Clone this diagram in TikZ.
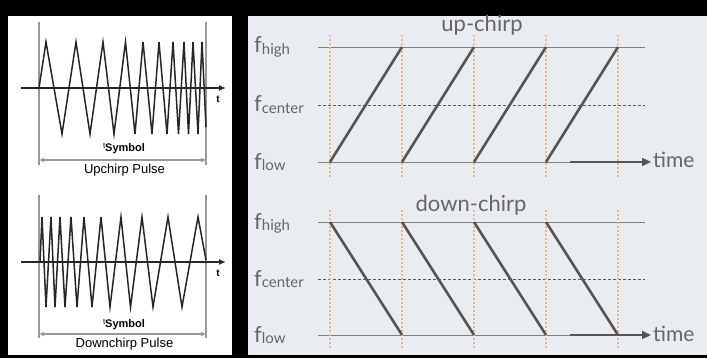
\documentclass[tikz,border=0pt]{standalone}
\usepackage{fontspec}
\setmainfont{Liberation Sans}
\newfontfamily\keyfont{Lato}
\usetikzlibrary{arrows.meta}
\definecolor{slide}{HTML}{E9EDF1}
\definecolor{ink}{HTML}{555555}
\definecolor{peach}{HTML}{F7B47E}
\newcommand\flab[1]{{\fontsize{22}{24}\selectfont f}\raisebox{-1.5pt}{\fontsize{15}{16}\selectfont #1}}
\newcommand\tsym{{\fontsize{8}{8}\selectfont\raisebox{3pt}{t}}{\fontsize{11}{12}\selectfont\bfseries Symbol}}

\begin{document}
\begin{tikzpicture}[x=1pt,y=-1pt,
  vbar/.style={draw=black!40,line width=2pt},
  wave/.style={draw=black!85,line width=1.5pt},
  axisline/.style={draw=black!85,line width=1.3pt,-{Latex[length=7pt,width=6pt]}},
  span/.style={draw=black!40,line width=1.3pt,{Latex[length=5pt,width=5pt]}-{Latex[length=5pt,width=5pt]}},
  level/.style={draw=black!50,line width=0.8pt},
  midlevel/.style={draw=black!65,line width=0.8pt,dash pattern=on 3pt off 2pt},
  slot/.style={draw=peach,line width=1.6pt,dash pattern=on 2pt off 2pt},
  ramp/.style={draw=ink,line width=2.6pt},
  timearrow/.style={draw=ink,line width=2.4pt,-{Triangle[length=9pt,width=8pt]}},
  flabel/.style={anchor=base west,inner sep=0pt,text=black!60,font=\keyfont},
  title/.style={anchor=base,inner sep=0pt,text=black!60,font=\keyfont\fontsize{22}{24}\selectfont},
  caption/.style={anchor=base,inner sep=0pt,font=\fontsize{13}{14}\selectfont}]
  \useasboundingbox[fill=black] (0,0) rectangle (707,358);
  \fill[white] (8,16) rectangle (232,355);
  \fill[slide] (248,16) rectangle (707,355);

  % left: upchirp pulse
  \draw[vbar] (39,22) -- (39,165);
  \draw[vbar] (206,22) -- (206,165);
  \coordinate (ut0) at (21,88);
  \coordinate (ut1) at (226,88);
  \draw[axisline] (ut0) -- (ut1);
  \draw[wave] (39,88) \foreach \x/\y in {46/42,62/134,76/42,90/134,103/42,114/134,125.5/42,135/134,143/42,152/134,
    159/42,167/134,173/42,178.5/134,184/42,188.5/134,193/42,198/134,202/42,206/127} { -- (\x,\y)};
  \node[inner sep=0pt,font=\fontsize{10}{10}\selectfont\bfseries] (ut) at (218,99) {t};
  \coordinate (us0) at (39,160);
  \coordinate (us1) at (206,160);
  \draw[span] (us0) -- (us1);
  \node[caption] (usym) at (124,152) {\tsym};
  \node[caption] (uname) at (124.5,174) {Upchirp Pulse};

  % left: downchirp pulse
  \draw[vbar] (39,195) -- (39,338);
  \draw[vbar] (206,195) -- (206,338);
  \coordinate (dt0) at (21,262);
  \coordinate (dt1) at (226,262);
  \draw[axisline] (dt0) -- (dt1);
  \draw[wave] (40,262) \foreach \x/\y in {42/217,46/307,51/217,55/307,60/217,65/307,71/217,77/307,84/217,92/307,
    101/217,110/307,121/217,130.5/307,142/217,153/307,168/217,182/307,198/217,206/260} { -- (\x,\y)};
  \node[inner sep=0pt,font=\fontsize{10}{10}\selectfont\bfseries] (dt) at (218,273) {t};
  \coordinate (ds0) at (39,334);
  \coordinate (ds1) at (206,334);
  \draw[span] (ds0) -- (ds1);
  \node[caption] (dsym) at (124,327) {\tsym};
  \node[caption] (dname) at (124.5,347) {Downchirp Pulse};

  % right: up-chirp
  \draw[level] (318,47) -- (645,47);
  \draw[midlevel] (318,105) -- (645,105);
  \draw[level] (318,162) -- (572,162);
  \foreach \i/\x in {0/330,1/402,2/474,3/546,4/618} {
    \draw[slot] (\x,35) -- (\x,177);
    \coordinate (uh\i) at (\x,47);
    \coordinate (ul\i) at (\x,162);
  }
  \foreach \i/\j in {0/1,1/2,2/3,3/4} {\draw[ramp] (ul\i) -- (uh\j);}
  \node[title] (uptitle) at (482,32) {up-chirp};
  \node[flabel] (ufh) at (254,53) {\flab{high}};
  \node[flabel] (ufc) at (254,112) {\flab{center}};
  \node[flabel] (ufl) at (254,169.5) {\flab{low}};
  \node[flabel,font=\keyfont\fontsize{21}{24}\selectfont] (utime) at (653,168) {time};
  \coordinate (utail) at (570,162);
  \coordinate (uhead) at (651,162);
  \draw[timearrow] (utail) -- (uhead);

  % right: down-chirp
  \draw[level] (318,222) -- (645,222);
  \draw[midlevel] (318,279) -- (645,279);
  \draw[level] (318,335) -- (572,335);
  \foreach \i/\x in {0/330,1/402,2/474,3/546,4/618} {
    \draw[slot] (\x,210) -- (\x,349);
    \coordinate (dh\i) at (\x,222);
    \coordinate (dl\i) at (\x,335);
  }
  \foreach \i/\j in {0/1,1/2,2/3,3/4} {\draw[ramp] (dh\i) -- (dl\j);}
  \node[title] (downtitle) at (471,212) {down-chirp};
  \node[flabel] (dfh) at (254,229.5) {\flab{high}};
  \node[flabel] (dfc) at (254,286.5) {\flab{center}};
  \node[flabel] (dfl) at (254,342) {\flab{low}};
  \node[flabel,font=\keyfont\fontsize{21}{24}\selectfont] (dtime) at (653,341) {time};
  \coordinate (dtail) at (570,335);
  \coordinate (dhead) at (651,335);
  \draw[timearrow] (dtail) -- (dhead);
\end{tikzpicture}
\end{document}
